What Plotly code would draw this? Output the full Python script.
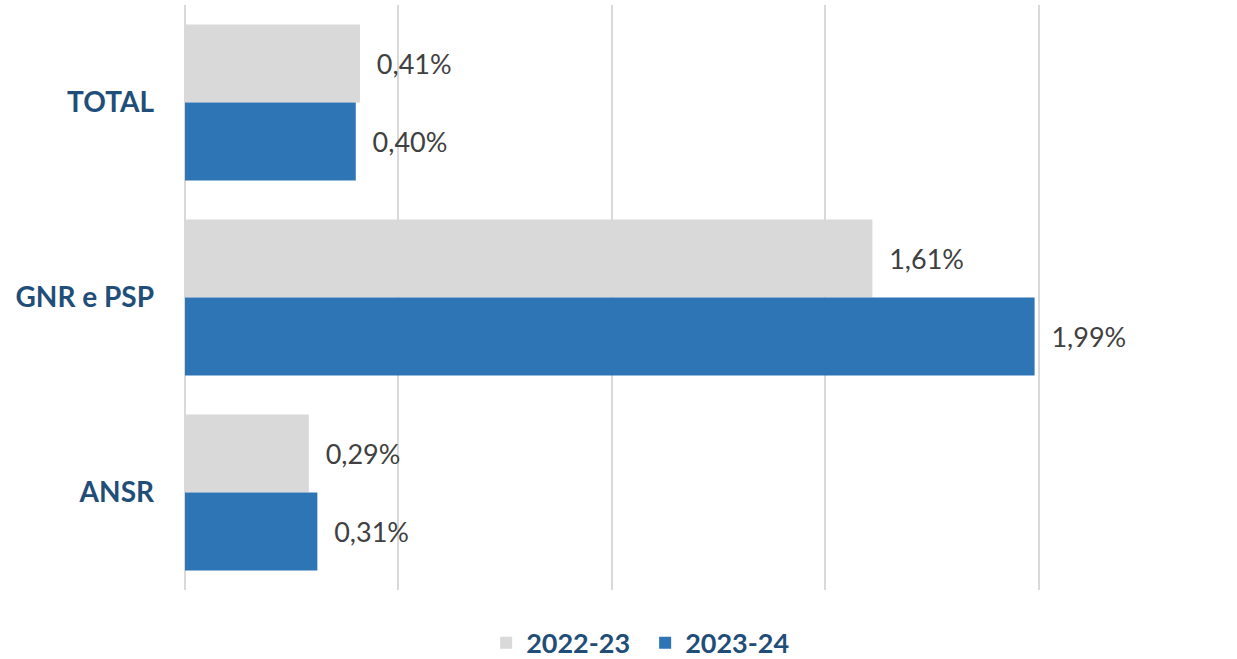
import plotly.graph_objects as go

CATEGORIES = ['TOTAL', 'GNR e PSP', 'ANSR']
VALUES_2022_23 = [0.41, 1.61, 0.29]
VALUES_2023_24 = [0.40, 1.99, 0.31]
SERIES = ['2022-23', '2023-24']

FONT = 'Lato'
LABEL_BLUE = '#1F4E79'
TEXT_GREY = '#404040'
GRID = '#D9D9D9'

fig = go.Figure()
for name, vals, color in [(SERIES[0], VALUES_2022_23, '#D9D9D9'),
                          (SERIES[1], VALUES_2023_24, '#2E75B6')]:
    fig.add_trace(go.Bar(
        y=CATEGORIES, x=vals, name=name, orientation='h',
        marker=dict(color=color, line=dict(width=0)),
        texttemplate='\u00a0\u00a0%{x:.2f}%', textposition='outside',
        textfont=dict(family=FONT, size=27, color=TEXT_GREY),
        cliponaxis=False, hoverinfo='skip'))

fig.update_layout(
    width=1237, height=659,
    margin=dict(l=185, r=196, t=5, b=69, autoexpand=False),
    paper_bgcolor='white', plot_bgcolor='white',
    separators=', ',
    barmode='group', bargap=0.2, bargroupgap=0,
    font=dict(family=FONT, color=TEXT_GREY),
    legend=dict(orientation='h', xref='container', yref='container',
                x=0.393, xanchor='left', y=0.024, yanchor='middle',
                entrywidth=114, entrywidthmode='pixels',
                font=dict(family=FONT, size=27, color=LABEL_BLUE, weight='bold'),
                itemclick=False, traceorder='normal'),
    xaxis=dict(range=[0, 2.005], dtick=0.5, showticklabels=False, showgrid=True,
               gridcolor=GRID, gridwidth=2, zeroline=True, zerolinecolor=GRID,
               zerolinewidth=2, showline=False, fixedrange=True, automargin=False),
    yaxis=dict(autorange='reversed', showgrid=False, showline=False, ticks='',
               ticklabelstandoff=30, fixedrange=True, automargin=False,
               tickfont=dict(family=FONT, size=28, color=LABEL_BLUE, weight='bold')),
)

# drop the default page margin so the figure sits at the window's top-left corner
fig.write_html('out.html', config={'displayModeBar': False},
               post_script="document.body.style.margin='0';")
